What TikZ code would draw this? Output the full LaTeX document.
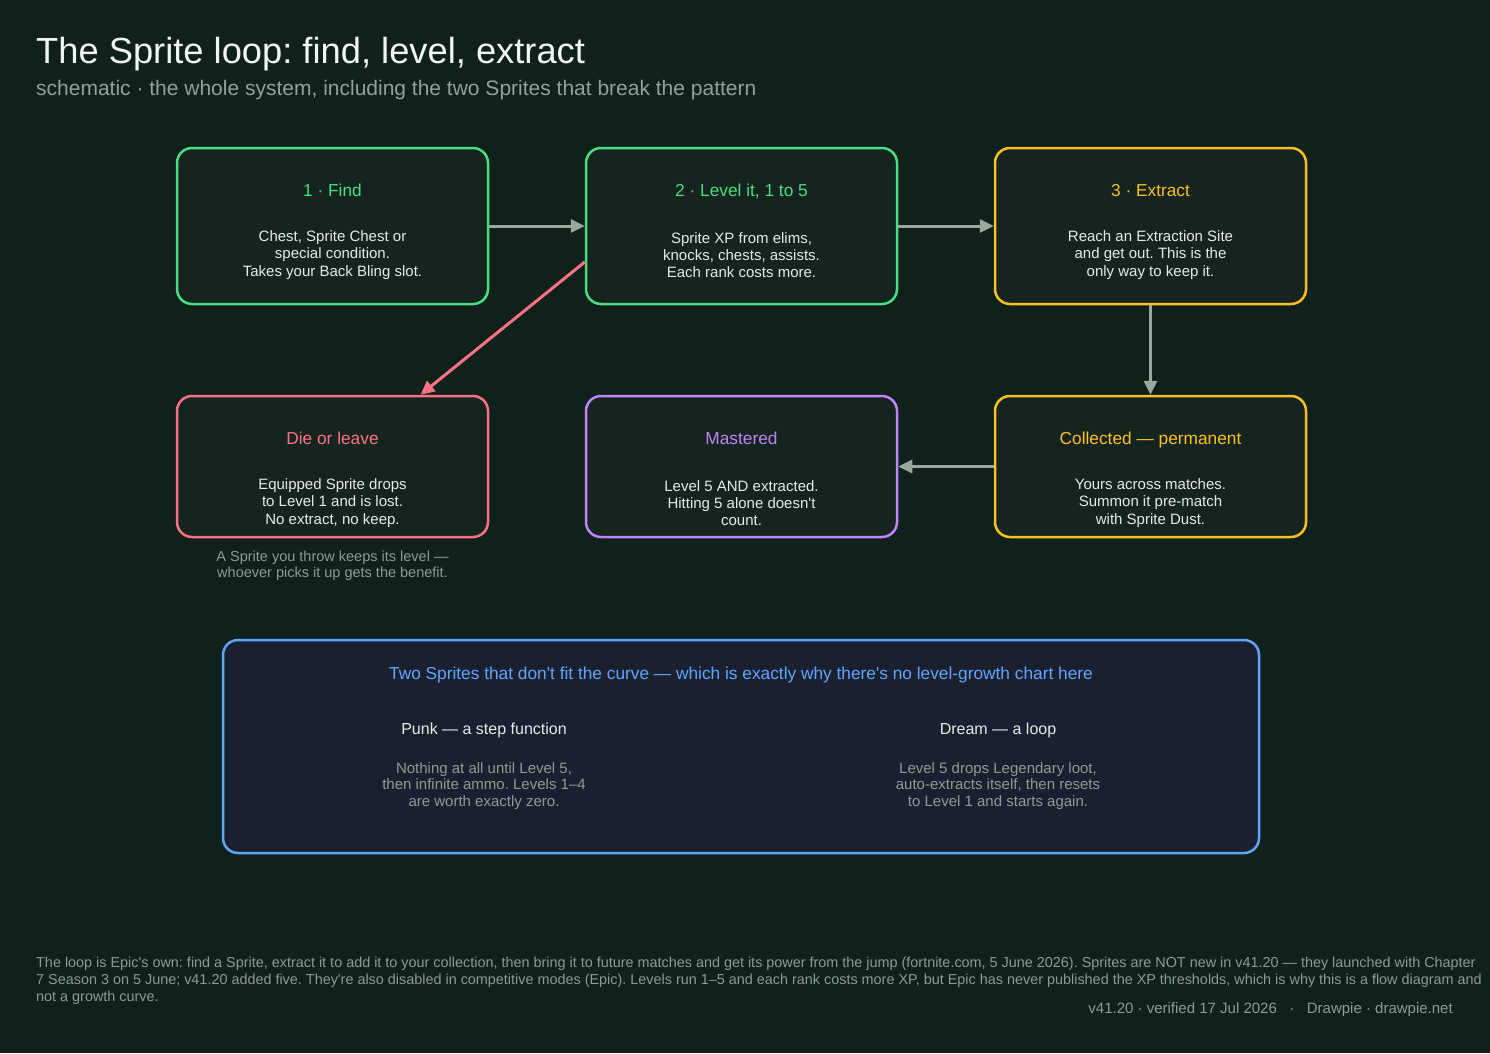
\documentclass[tikz,border=0pt]{standalone}
\usepackage{fontspec}
\setmainfont{Liberation Sans}[Ligatures=TeXOff]
\frenchspacing
\usetikzlibrary{arrows.meta}
\definecolor{bg}{HTML}{10201A}
\definecolor{boxfill}{HTML}{16241F}
\definecolor{navyfill}{HTML}{1B2031}
\definecolor{cgreen}{HTML}{4ADE80}
\definecolor{cyellow}{HTML}{FBBF24}
\definecolor{cred}{HTML}{FB7185}
\definecolor{cpurple}{HTML}{C084FC}
\definecolor{cblue}{HTML}{60A5FA}
\definecolor{arrowgray}{HTML}{9AA89F}
\definecolor{titlewhite}{HTML}{F1F5F3}
\definecolor{subgray}{HTML}{8FA39A}
\definecolor{bodytext}{HTML}{E6EAE8}
\definecolor{smallgray}{HTML}{8C9C94}
\begin{document}
\frenchspacing
\begin{tikzpicture}[x=1pt,y=-1pt,
  stepbox/.style={draw, line width=2.5pt, rounded corners=15pt, fill=boxfill,
     minimum width=311pt, inner sep=0pt},
  rowone/.style={minimum height=156pt},
  rowtwo/.style={minimum height=141pt},
  boxtitle/.style={anchor=base, inner sep=0pt, font=\fontsize{17.3}{20}\selectfont},
  boxbody/.style={anchor=center, inner sep=0pt, align=center, text=bodytext,
     font=\fontsize{15}{17.3}\selectfont},
  flow/.style={draw=arrowgray, line width=3pt, -{Triangle[length=14pt,width=13pt]}},
  lossflow/.style={draw=cred, line width=3pt, -{Triangle[length=14pt,width=13pt]}},
  note/.style={inner sep=0pt, align=center, text=smallgray, font=\fontsize{14.5}{16.3}\selectfont}
]
\fill[bg] (0,0) rectangle (1490,1053);
\useasboundingbox (0,0) rectangle (1490,1053);

% header
\node[anchor=base west, inner sep=0pt, text=titlewhite, font=\fontsize{36.3}{40}\selectfont] (title) at (36,63) {The Sprite loop: find, level, extract};
\node[anchor=base west, inner sep=0pt, text=subgray, font=\fontsize{21}{24}\selectfont] (subtitle) at (36,95) {schematic · the whole system, including the two Sprites that break the pattern};

% boxes
\node[stepbox, rowone, draw=cgreen] (b1) at (332.5,226) {};
\node[stepbox, rowone, draw=cgreen] (b2) at (741.5,226) {};
\node[stepbox, rowone, draw=cyellow] (b3) at (1150.5,226) {};
\node[stepbox, rowtwo, draw=cred] (b4) at (332.5,466.5) {};
\node[stepbox, rowtwo, draw=cpurple] (b5) at (741.5,466.5) {};
\node[stepbox, rowtwo, draw=cyellow] (b6) at (1150.5,466.5) {};

% box texts
\node[boxtitle, text=cgreen] (t1) at (332.5,196) {1 · Find};
\node[boxbody] (d1) at (332.5,255) {Chest, Sprite Chest or\\special condition.\\Takes your Back Bling slot.};
\node[boxtitle, text=cgreen] (t2) at (741.5,196) {2 · Level it, 1 to 5};
\node[boxbody] (d2) at (741.5,255) {Sprite XP from elims,\\knocks, chests, assists.\\Each rank costs more.};
\node[boxtitle, text=cyellow] (t3) at (1150.5,196) {3 · Extract};
\node[boxbody] (d3) at (1150.5,255) {Reach an Extraction Site\\and get out. This is the\\only way to keep it.};
\node[boxtitle, text=cred] (t4) at (332.5,444) {Die or leave};
\node[boxbody] (d4) at (332.5,503) {Equipped Sprite drops\\to Level 1 and is lost.\\No extract, no keep.};
\node[boxtitle, text=cpurple] (t5) at (741.5,444) {Mastered};
\node[boxbody] (d5) at (741.5,503) {Level 5 AND extracted.\\Hitting 5 alone doesn't\\count.};
\node[boxtitle, text=cyellow] (t6) at (1150.5,444) {Collected — permanent};
\node[boxbody] (d6) at (1150.5,503) {Yours across matches.\\Summon it pre-match\\with Sprite Dust.};

\node[note] (throwNote) at (332.5,566) {A Sprite you throw keeps its level —\\whoever picks it up gets the benefit.};

% connectors
\draw[flow] (b1.east) -- (b2.west);
\draw[flow] (b2.east) -- (b3.west);
\draw[flow] (b3.south) -- (b6.north);
\draw[flow] (b6.west) -- (b5.east);
\draw[lossflow] ([yshift=-36pt]b2.west) -- ([xshift=88pt]b4.north);

% bottom panel
\node[draw=cblue, line width=2.5pt, rounded corners=15pt, fill=navyfill,
      minimum width=1036pt, minimum height=213pt, inner sep=0pt] (panel) at (741,746.5) {};
\node[boxtitle, text=cblue] (ptitle) at (741,679) {Two Sprites that don't fit the curve — which is exactly why there's no level-growth chart here};
\node[anchor=base, inner sep=0pt, text=bodytext, font=\fontsize{16}{19}\selectfont] (punk) at (484,734) {Punk — a step function};
\node[anchor=base, inner sep=0pt, text=bodytext, font=\fontsize{16}{19}\selectfont] (dream) at (998,734) {Dream — a loop};
\node[note, font=\fontsize{15}{16.2}\selectfont] (punkbody) at (484,786) {Nothing at all until Level 5,\\then infinite ammo. Levels 1–4\\are worth exactly zero.};
\node[note, font=\fontsize{15}{16.2}\selectfont] (dreambody) at (998,786) {Level 5 drops Legendary loot,\\auto-extracts itself, then resets\\to Level 1 and starts again.};

% footer
\node[anchor=west, inner sep=0pt, align=left, text=smallgray, font=\fontsize{14.4}{16.8}\selectfont] (footer) at (36,981) {The loop is Epic's own: find a Sprite, extract it to add it to your collection, then bring it to future matches and get its power from the jump (fortnite.com, 5 June 2026). Sprites are NOT new in v41.20 — they launched with Chapter\\7 Season 3 on 5 June; v41.20 added five. They're also disabled in competitive modes (Epic). Levels run 1–5 and each rank costs more XP, but Epic has never published the XP thresholds, which is why this is a flow diagram and\\not a growth curve.};
\node[anchor=base east, inner sep=0pt, text=smallgray, font=\fontsize{15}{17}\selectfont] (version) at (1453,1013) {v41.20 · verified 17 Jul 2026 \ \ · \ \ Drawpie · drawpie.net};
\end{tikzpicture}
\end{document}
